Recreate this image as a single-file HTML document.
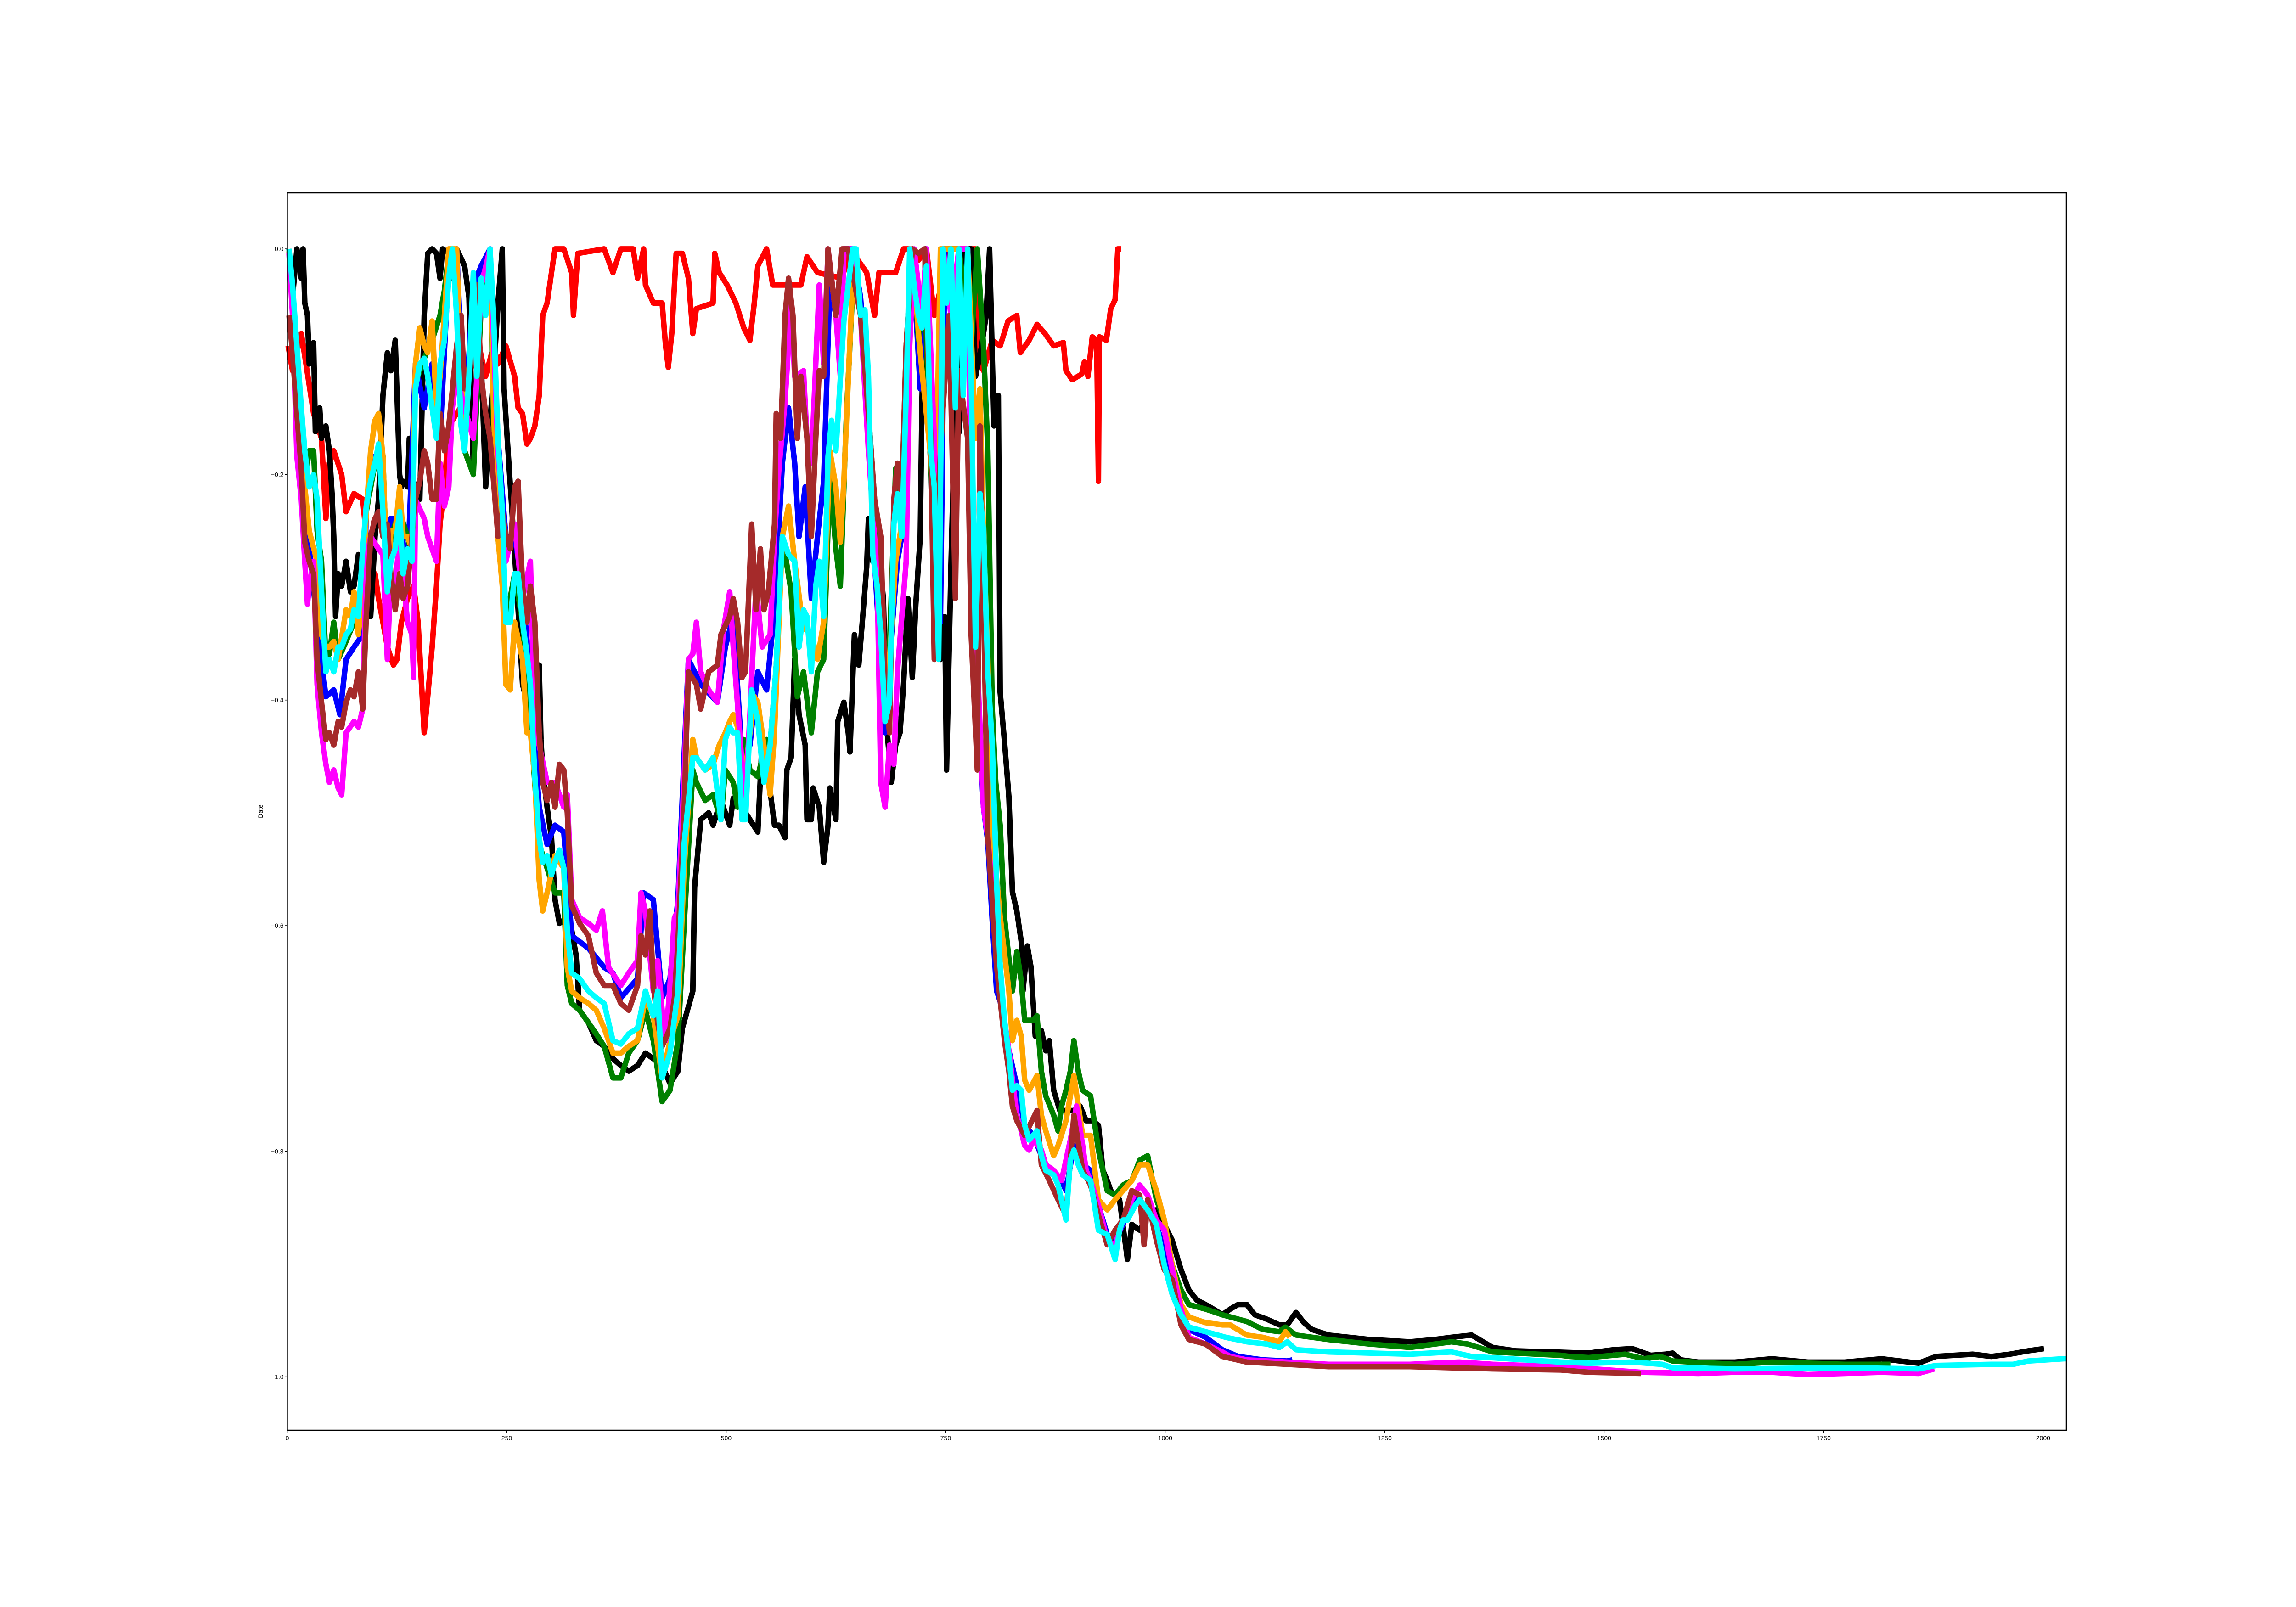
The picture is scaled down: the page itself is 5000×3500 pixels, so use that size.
<!DOCTYPE html>
<html><head><meta charset="utf-8"><title>Drawdown chart</title>
<style>html,body{margin:0;padding:0;background:#fff}svg{display:block}text{font-family:"Liberation Sans","DejaVu Sans",sans-serif;font-size:14px;fill:#000}</style>
</head><body>
<svg id="chart" xmlns="http://www.w3.org/2000/svg" width="5000" height="3500" viewBox="0 0 5000 3500">
<rect x="0" y="0" width="5000" height="3500" fill="#fff"/>
<g id="series"></g>
<rect x="625.5" y="420" width="3874.5" height="2695" fill="none" stroke="#000" stroke-width="2.5"/>
<g id="axes"></g>
<text x="0" y="0" text-anchor="middle" transform="translate(572,1767) rotate(-90)">Date</text>
</svg>
<script>
const xTicks = [0,250,500,750,1000,1250,1500,1750,2000];
const xTickLabels = ["0","250","500","750","1000","1250","1500","1750","2000"];
const yTicks = [0,-0.2,-0.4,-0.6,-0.8,-1.0];
const yTickLabels = ["0.0","\u22120.2","\u22120.4","\u22120.6","\u22120.8","\u22121.0"];
const seriesColors = ["red","black","blue","green","orange","magenta","brown","cyan"];

const redData = [[1,-0.086],[6,-0.108],[16,-0.075],[30,-0.146],[39,-0.168],[44,-0.239],[48,-0.19],[53,-0.179],[62,-0.2],[67,-0.233],[76,-0.217],[86,-0.222],[90,-0.255],[95,-0.299],[100,-0.288],[104,-0.31],[109,-0.331],[114,-0.353],[121,-0.369],[125,-0.364],[130,-0.331],[137,-0.31],[144,-0.299],[149,-0.331],[156,-0.429],[160,-0.397],[165,-0.353],[170,-0.299],[174,-0.244],[179,-0.211],[184,-0.157],[193,-0.146],[202,-0.135],[207,-0.113],[217,-0.081],[226,-0.113],[235,-0.086],[240,-0.102],[249,-0.086],[259,-0.113],[263,-0.141],[268,-0.146],[273,-0.173],[277,-0.168],[282,-0.157],[287,-0.13],[291,-0.059],[296,-0.048],[301,-0.021],[305,0],[315,0],[324,-0.021],[326,-0.059],[331,-0.004],[361,0],[371,-0.021],[380,0],[394,0],[399,-0.026],[406,0],[408,-0.032],[417,-0.048],[427,-0.048],[431,-0.086],[434,-0.105],[438,-0.075],[443,-0.004],[450,-0.004],[457,-0.026],[462,-0.075],[466,-0.053],[485,-0.048],[487,-0.004],[492,-0.021],[501,-0.032],[511,-0.048],[520,-0.07],[527,-0.081],[532,-0.048],[536,-0.015],[546,0],[553,-0.032],[585,-0.032],[592,-0.007],[604,-0.021],[632,-0.026],[641,0],[660,-0.021],[669,-0.059],[674,-0.021],[693,-0.021],[702,0],[709,0],[719,-0.01],[728,0],[737,-0.059],[747,-0.026],[756,0],[784,0],[789,-0.102],[793,-0.108],[803,-0.081],[812,-0.086],[821,-0.064],[831,-0.059],[835,-0.092],[845,-0.081],[854,-0.067],[863,-0.075],[873,-0.086],[884,-0.083],[887,-0.108],[894,-0.116],[905,-0.111],[908,-0.1],[912,-0.113],[917,-0.078],[922,-0.081],[924,-0.206],[925,-0.078],[933,-0.081],[938,-0.053],[943,-0.045],[946,0],[950,0]];

const blackData = [[2,0],[6,-0.043],[11,0],[16,-0.026],[18,0],[20,-0.048],[23,-0.059],[25,-0.102],[27,-0.086],[30,-0.083],[32,-0.162],[37,-0.141],[39,-0.168],[44,-0.157],[48,-0.179],[51,-0.217],[53,-0.255],[55,-0.326],[58,-0.288],[62,-0.299],[67,-0.277],[72,-0.304],[76,-0.299],[81,-0.271],[86,-0.282],[90,-0.277],[95,-0.326],[100,-0.255],[104,-0.222],[109,-0.13],[114,-0.092],[118,-0.108],[123,-0.081],[128,-0.2],[130,-0.211],[132,-0.206],[137,-0.211],[139,-0.168],[144,-0.206],[151,-0.222],[156,-0.059],[160,-0.004],[165,0],[170,-0.004],[174,-0.026],[177,0],[184,-0.004],[188,-0.026],[193,0],[202,-0.015],[207,-0.043],[212,-0.195],[216,-0.113],[221,-0.102],[226,-0.211],[231,-0.152],[235,-0.113],[240,-0.048],[245,0],[247,-0.124],[251,-0.173],[256,-0.233],[263,-0.32],[268,-0.386],[273,-0.402],[277,-0.364],[282,-0.369],[287,-0.369],[289,-0.435],[291,-0.462],[296,-0.495],[301,-0.522],[305,-0.577],[310,-0.598],[319,-0.593],[324,-0.604],[329,-0.626],[333,-0.675],[343,-0.686],[352,-0.702],[361,-0.707],[371,-0.718],[380,-0.724],[389,-0.729],[399,-0.724],[408,-0.713],[417,-0.718],[427,-0.724],[436,-0.74],[445,-0.729],[450,-0.691],[462,-0.658],[464,-0.566],[471,-0.506],[480,-0.5],[485,-0.511],[494,-0.489],[504,-0.511],[508,-0.487],[518,-0.495],[527,-0.506],[536,-0.517],[541,-0.435],[548,-0.468],[555,-0.511],[560,-0.511],[567,-0.522],[569,-0.462],[574,-0.451],[578,-0.364],[583,-0.413],[590,-0.44],[592,-0.506],[597,-0.506],[599,-0.478],[606,-0.495],[611,-0.544],[616,-0.511],[618,-0.478],[625,-0.506],[627,-0.419],[634,-0.402],[639,-0.429],[641,-0.446],[646,-0.342],[651,-0.369],[655,-0.331],[660,-0.282],[662,-0.239],[667,-0.277],[672,-0.255],[679,-0.31],[683,-0.424],[688,-0.473],[693,-0.44],[698,-0.429],[702,-0.386],[707,-0.31],[712,-0.38],[716,-0.315],[721,-0.255],[723,-0.135],[727,0],[730,-0.113],[735,-0.255],[740,-0.13],[744,-0.364],[749,-0.326],[751,-0.462],[756,-0.282],[761,-0.13],[765,-0.163],[770,0],[779,0],[784,-0.113],[791,-0.086],[796,-0.059],[800,0],[805,-0.157],[810,-0.13],[812,-0.393],[817,-0.437],[822,-0.486],[826,-0.57],[831,-0.587],[836,-0.614],[838,-0.658],[843,-0.618],[847,-0.636],[852,-0.698],[859,-0.693],[864,-0.711],[868,-0.702],[873,-0.746],[880,-0.764],[887,-0.764],[896,-0.764],[903,-0.76],[910,-0.773],[917,-0.773],[924,-0.777],[929,-0.817],[934,-0.826],[938,-0.835],[948,-0.843],[957,-0.896],[962,-0.865],[971,-0.87],[980,-0.857],[990,-0.852],[999,-0.865],[1008,-0.879],[1018,-0.905],[1027,-0.923],[1036,-0.932],[1046,-0.936],[1055,-0.94],[1065,-0.945],[1074,-0.94],[1083,-0.936],[1093,-0.936],[1102,-0.945],[1116,-0.949],[1130,-0.954],[1139,-0.954],[1149,-0.943],[1158,-0.952],[1167,-0.958],[1186,-0.963],[1233,-0.967],[1279,-0.969],[1307,-0.967],[1326,-0.965],[1349,-0.963],[1373,-0.974],[1399,-0.977],[1441,-0.978],[1482,-0.979],[1511,-0.976],[1532,-0.975],[1553,-0.981],[1570,-0.98],[1578,-0.979],[1587,-0.985],[1607,-0.987],[1649,-0.987],[1691,-0.984],[1732,-0.987],[1774,-0.987],[1816,-0.984],[1858,-0.988],[1878,-0.982],[1920,-0.98],[1941,-0.982],[1962,-0.98],[1983,-0.977],[2001,-0.975]];

const blueData = [[2,0],[11,-0.113],[20,-0.222],[25,-0.266],[34,-0.331],[44,-0.397],[53,-0.391],[60,-0.413],[67,-0.364],[76,-0.353],[86,-0.342],[90,-0.233],[100,-0.184],[109,-0.184],[114,-0.331],[118,-0.239],[128,-0.239],[137,-0.288],[146,-0.102],[156,-0.141],[165,-0.102],[174,-0.168],[184,-0.015],[193,0],[202,-0.157],[212,-0.032],[221,-0.015],[231,0],[240,-0.168],[249,-0.255],[259,-0.255],[268,-0.299],[277,-0.386],[287,-0.495],[296,-0.528],[305,-0.511],[315,-0.517],[324,-0.609],[343,-0.62],[361,-0.637],[371,-0.642],[380,-0.664],[399,-0.647],[406,-0.571],[417,-0.577],[427,-0.664],[436,-0.647],[445,-0.577],[452,-0.45],[457,-0.364],[471,-0.386],[490,-0.402],[499,-0.353],[508,-0.326],[518,-0.451],[527,-0.44],[536,-0.375],[546,-0.391],[555,-0.32],[564,-0.19],[571,-0.141],[578,-0.19],[583,-0.255],[590,-0.211],[597,-0.31],[604,-0.255],[611,-0.206],[618,-0.032],[625,-0.059],[634,0],[644,0],[653,-0.043],[662,-0.135],[669,-0.277],[676,-0.37],[681,-0.429],[686,-0.364],[695,-0.277],[700,-0.255],[705,-0.113],[712,0],[721,-0.124],[728,0],[737,-0.179],[744,-0.331],[749,0],[775,0],[779,-0.222],[784,-0.364],[793,-0.495],[798,-0.526],[803,-0.596],[808,-0.658],[812,-0.667],[822,-0.711],[831,-0.742],[840,-0.777],[850,-0.786],[859,-0.804],[868,-0.817],[882,-0.826],[887,-0.835],[896,-0.795],[906,-0.812],[915,-0.817],[924,-0.848],[934,-0.874],[943,-0.879],[952,-0.865],[962,-0.843],[971,-0.843],[980,-0.852],[990,-0.865],[999,-0.888],[1008,-0.91],[1018,-0.94],[1027,-0.958],[1046,-0.965],[1065,-0.976],[1083,-0.982],[1111,-0.985],[1139,-0.986],[1145,-0.985]];

const greenData = [[2,0],[11,-0.113],[20,-0.206],[25,-0.179],[30,-0.179],[34,-0.25],[39,-0.277],[44,-0.364],[48,-0.359],[53,-0.331],[58,-0.364],[67,-0.348],[76,-0.331],[86,-0.299],[90,-0.233],[100,-0.19],[109,-0.184],[114,-0.304],[118,-0.255],[128,-0.233],[137,-0.255],[142,-0.271],[146,-0.119],[156,-0.097],[165,-0.081],[174,-0.059],[179,-0.037],[184,-0.004],[193,-0.015],[202,-0.179],[212,-0.2],[221,-0.048],[231,-0.004],[235,-0.157],[240,-0.255],[249,-0.331],[259,-0.288],[268,-0.331],[277,-0.419],[287,-0.528],[296,-0.549],[305,-0.571],[315,-0.571],[319,-0.653],[324,-0.669],[333,-0.675],[343,-0.686],[352,-0.696],[361,-0.707],[371,-0.735],[380,-0.735],[389,-0.713],[399,-0.702],[408,-0.675],[417,-0.702],[427,-0.756],[436,-0.746],[445,-0.702],[452,-0.6],[462,-0.462],[466,-0.473],[476,-0.489],[485,-0.484],[494,-0.506],[499,-0.462],[508,-0.473],[513,-0.495],[520,-0.435],[527,-0.462],[536,-0.468],[546,-0.435],[550,-0.44],[557,-0.37],[564,-0.255],[574,-0.304],[581,-0.397],[588,-0.375],[597,-0.429],[604,-0.375],[611,-0.364],[618,-0.2],[625,-0.266],[630,-0.299],[637,-0.146],[644,-0.037],[648,-0.032],[653,-0.059],[662,-0.146],[672,-0.255],[681,-0.364],[686,-0.353],[693,-0.195],[700,-0.222],[705,-0.086],[712,0],[719,-0.081],[726,-0.032],[733,-0.195],[737,-0.288],[747,0],[765,0],[779,-0.086],[786,0],[793,-0.086],[798,-0.179],[803,-0.408],[807,-0.473],[812,-0.511],[817,-0.593],[826,-0.658],[831,-0.623],[836,-0.649],[840,-0.684],[850,-0.684],[854,-0.68],[859,-0.729],[864,-0.751],[873,-0.768],[878,-0.782],[882,-0.76],[887,-0.746],[892,-0.729],[896,-0.702],[901,-0.729],[906,-0.746],[915,-0.751],[924,-0.799],[934,-0.835],[943,-0.839],[952,-0.83],[962,-0.826],[971,-0.808],[980,-0.804],[990,-0.843],[999,-0.861],[1008,-0.901],[1018,-0.923],[1027,-0.936],[1046,-0.94],[1065,-0.945],[1093,-0.951],[1111,-0.958],[1130,-0.96],[1137,-0.956],[1149,-0.963],[1186,-0.967],[1233,-0.971],[1279,-0.974],[1326,-0.969],[1345,-0.971],[1373,-0.978],[1451,-0.981],[1461,-0.982],[1482,-0.983],[1524,-0.98],[1545,-0.984],[1564,-0.982],[1578,-0.986],[1649,-0.989],[1691,-0.987],[1774,-0.989],[1826,-0.989]];

const orangeData = [[2,0],[11,-0.113],[20,-0.211],[25,-0.25],[34,-0.277],[39,-0.342],[44,-0.353],[48,-0.353],[53,-0.348],[58,-0.364],[67,-0.32],[72,-0.326],[76,-0.304],[81,-0.342],[86,-0.299],[90,-0.233],[95,-0.179],[100,-0.152],[104,-0.146],[109,-0.184],[114,-0.304],[118,-0.25],[123,-0.25],[128,-0.211],[132,-0.255],[137,-0.255],[142,-0.266],[146,-0.102],[151,-0.07],[156,-0.086],[160,-0.092],[165,-0.064],[170,-0.141],[174,-0.113],[179,-0.059],[184,0],[193,0],[198,-0.113],[202,-0.157],[212,-0.059],[221,-0.032],[231,-0.004],[235,-0.141],[240,-0.255],[245,-0.299],[249,-0.386],[254,-0.391],[259,-0.331],[268,-0.364],[273,-0.429],[277,-0.429],[282,-0.468],[287,-0.56],[291,-0.587],[296,-0.571],[305,-0.538],[315,-0.549],[319,-0.637],[324,-0.658],[333,-0.664],[343,-0.669],[352,-0.675],[361,-0.691],[371,-0.713],[380,-0.713],[389,-0.707],[399,-0.702],[408,-0.664],[417,-0.68],[427,-0.735],[436,-0.702],[445,-0.68],[452,-0.55],[462,-0.435],[466,-0.451],[476,-0.462],[485,-0.457],[492,-0.44],[499,-0.429],[504,-0.419],[508,-0.413],[513,-0.424],[518,-0.468],[522,-0.462],[532,-0.397],[536,-0.402],[541,-0.429],[550,-0.484],[555,-0.429],[560,-0.331],[564,-0.255],[571,-0.228],[578,-0.277],[585,-0.32],[590,-0.337],[597,-0.342],[604,-0.364],[611,-0.331],[618,-0.179],[625,-0.211],[630,-0.26],[634,-0.206],[641,-0.081],[646,0],[653,-0.059],[658,-0.059],[662,-0.146],[669,-0.266],[676,-0.348],[681,-0.386],[686,-0.364],[693,-0.277],[700,-0.244],[705,-0.13],[712,0],[719,-0.075],[723,-0.108],[733,-0.184],[737,-0.299],[744,0],[775,0],[784,-0.168],[789,-0.124],[793,-0.255],[798,-0.364],[803,-0.517],[812,-0.592],[822,-0.658],[826,-0.702],[831,-0.684],[836,-0.698],[840,-0.737],[845,-0.746],[854,-0.733],[859,-0.768],[864,-0.782],[873,-0.804],[878,-0.795],[887,-0.773],[896,-0.733],[906,-0.786],[915,-0.786],[924,-0.843],[934,-0.852],[943,-0.843],[952,-0.835],[962,-0.826],[971,-0.812],[980,-0.812],[990,-0.835],[999,-0.861],[1008,-0.901],[1018,-0.936],[1027,-0.947],[1046,-0.952],[1065,-0.954],[1074,-0.954],[1093,-0.963],[1111,-0.965],[1130,-0.969],[1137,-0.96],[1142,-0.965]];

const magentaData = [[2,-0.004],[6,-0.059],[11,-0.184],[16,-0.222],[20,-0.277],[23,-0.315],[25,-0.299],[30,-0.277],[34,-0.386],[39,-0.429],[44,-0.457],[48,-0.473],[53,-0.462],[58,-0.478],[62,-0.484],[67,-0.429],[76,-0.419],[81,-0.424],[86,-0.408],[90,-0.277],[95,-0.255],[104,-0.266],[109,-0.271],[114,-0.364],[118,-0.288],[123,-0.299],[128,-0.255],[137,-0.331],[142,-0.342],[144,-0.38],[146,-0.222],[156,-0.239],[160,-0.255],[170,-0.277],[174,-0.19],[179,-0.228],[184,-0.211],[188,-0.141],[193,-0.113],[202,-0.141],[212,-0.168],[216,-0.113],[221,-0.032],[231,0],[240,-0.179],[249,-0.277],[259,-0.244],[268,-0.31],[277,-0.277],[282,-0.429],[287,-0.44],[296,-0.473],[305,-0.473],[315,-0.495],[319,-0.484],[324,-0.577],[333,-0.593],[343,-0.598],[352,-0.604],[359,-0.587],[366,-0.637],[380,-0.653],[389,-0.642],[399,-0.631],[403,-0.571],[408,-0.587],[417,-0.658],[422,-0.631],[427,-0.675],[431,-0.702],[436,-0.653],[441,-0.593],[445,-0.587],[452,-0.47],[457,-0.364],[462,-0.359],[466,-0.331],[471,-0.375],[480,-0.391],[490,-0.402],[497,-0.337],[504,-0.304],[508,-0.353],[518,-0.457],[522,-0.489],[527,-0.413],[534,-0.299],[541,-0.353],[550,-0.342],[555,-0.255],[560,-0.195],[567,-0.135],[574,-0.048],[578,-0.113],[588,-0.108],[592,-0.168],[597,-0.19],[606,-0.032],[611,-0.102],[616,0],[625,-0.059],[630,-0.113],[634,0],[644,0],[653,-0.059],[662,-0.179],[672,-0.288],[676,-0.473],[681,-0.495],[686,-0.44],[691,-0.457],[695,-0.375],[705,-0.277],[709,-0.086],[714,0],[723,-0.059],[728,0],[737,-0.168],[742,-0.304],[747,0],[756,-0.059],[765,0],[775,0],[779,-0.222],[784,-0.331],[793,-0.495],[798,-0.522],[808,-0.614],[812,-0.658],[822,-0.711],[826,-0.737],[831,-0.768],[836,-0.782],[840,-0.795],[845,-0.799],[850,-0.79],[859,-0.799],[864,-0.812],[873,-0.817],[882,-0.826],[892,-0.79],[899,-0.76],[906,-0.795],[910,-0.817],[915,-0.826],[924,-0.848],[934,-0.879],[943,-0.883],[952,-0.861],[962,-0.843],[971,-0.83],[980,-0.839],[990,-0.861],[999,-0.87],[1008,-0.905],[1018,-0.94],[1027,-0.965],[1046,-0.971],[1065,-0.978],[1074,-0.982],[1093,-0.985],[1139,-0.987],[1186,-0.989],[1279,-0.989],[1335,-0.987],[1373,-0.989],[1451,-0.991],[1541,-0.996],[1607,-0.997],[1649,-0.996],[1691,-0.996],[1732,-0.998],[1774,-0.997],[1816,-0.996],[1858,-0.997],[1876,-0.993]];

const brownData = [[2,-0.059],[6,-0.092],[11,-0.146],[16,-0.195],[20,-0.26],[25,-0.277],[30,-0.288],[34,-0.364],[39,-0.402],[44,-0.435],[48,-0.429],[53,-0.44],[58,-0.419],[62,-0.424],[67,-0.402],[72,-0.391],[76,-0.397],[81,-0.375],[86,-0.408],[90,-0.326],[95,-0.255],[100,-0.239],[104,-0.233],[109,-0.255],[114,-0.244],[118,-0.288],[123,-0.32],[128,-0.288],[132,-0.31],[137,-0.299],[146,-0.222],[151,-0.206],[156,-0.179],[160,-0.19],[165,-0.222],[170,-0.222],[174,-0.146],[179,-0.179],[184,-0.157],[193,-0.086],[198,-0.059],[202,-0.124],[207,-0.113],[212,-0.048],[216,-0.032],[221,-0.113],[226,-0.146],[231,-0.168],[235,-0.206],[240,-0.255],[245,-0.233],[249,-0.255],[254,-0.266],[259,-0.211],[263,-0.206],[268,-0.299],[273,-0.331],[277,-0.299],[282,-0.331],[287,-0.429],[291,-0.473],[296,-0.489],[301,-0.473],[305,-0.495],[310,-0.457],[315,-0.462],[319,-0.5],[324,-0.582],[333,-0.598],[343,-0.609],[352,-0.642],[361,-0.653],[371,-0.653],[380,-0.669],[389,-0.675],[399,-0.653],[403,-0.609],[408,-0.626],[413,-0.587],[417,-0.653],[422,-0.686],[427,-0.707],[436,-0.691],[441,-0.664],[445,-0.615],[452,-0.5],[457,-0.375],[466,-0.386],[471,-0.408],[480,-0.375],[490,-0.369],[494,-0.342],[504,-0.326],[508,-0.31],[513,-0.331],[518,-0.38],[522,-0.375],[529,-0.244],[534,-0.32],[539,-0.266],[543,-0.32],[548,-0.304],[555,-0.244],[557,-0.146],[562,-0.168],[567,-0.059],[571,-0.026],[576,-0.059],[581,-0.168],[585,-0.113],[592,-0.168],[597,-0.255],[602,-0.168],[606,-0.108],[611,-0.113],[616,0],[625,-0.059],[632,0],[639,0],[653,-0.059],[662,-0.146],[669,-0.222],[676,-0.255],[681,-0.386],[686,-0.429],[691,-0.222],[695,-0.19],[700,-0.222],[705,-0.086],[712,0],[719,-0.004],[726,0],[733,-0.168],[737,-0.364],[742,-0.211],[747,-0.141],[754,-0.059],[761,-0.31],[765,-0.108],[775,-0.168],[779,-0.342],[786,-0.462],[789,-0.157],[793,-0.31],[798,-0.521],[808,-0.636],[817,-0.702],[822,-0.729],[826,-0.76],[831,-0.773],[840,-0.786],[854,-0.764],[859,-0.812],[868,-0.826],[878,-0.843],[887,-0.857],[896,-0.768],[906,-0.817],[915,-0.83],[924,-0.857],[934,-0.883],[943,-0.87],[952,-0.861],[962,-0.835],[971,-0.839],[976,-0.883],[980,-0.843],[990,-0.879],[999,-0.905],[1008,-0.914],[1018,-0.954],[1027,-0.967],[1046,-0.971],[1065,-0.982],[1093,-0.987],[1139,-0.989],[1186,-0.991],[1279,-0.991],[1373,-0.993],[1451,-0.994],[1482,-0.996],[1542,-0.997]];

const cyanData = [[2,0],[6,-0.032],[11,-0.086],[16,-0.141],[20,-0.179],[25,-0.211],[30,-0.2],[34,-0.222],[39,-0.304],[44,-0.375],[48,-0.364],[53,-0.375],[58,-0.353],[62,-0.353],[67,-0.342],[72,-0.337],[76,-0.32],[81,-0.326],[86,-0.266],[90,-0.228],[95,-0.206],[100,-0.19],[104,-0.173],[109,-0.233],[114,-0.304],[118,-0.277],[123,-0.266],[128,-0.233],[132,-0.288],[137,-0.266],[142,-0.277],[146,-0.124],[151,-0.102],[156,-0.097],[160,-0.113],[165,-0.141],[170,-0.168],[174,-0.102],[179,-0.081],[184,-0.026],[188,0],[193,-0.059],[198,-0.157],[202,-0.179],[207,-0.113],[212,-0.021],[216,-0.113],[221,-0.026],[226,-0.059],[231,0],[235,-0.059],[240,-0.168],[245,-0.233],[249,-0.331],[254,-0.331],[259,-0.288],[263,-0.288],[268,-0.331],[273,-0.359],[277,-0.386],[282,-0.468],[287,-0.522],[291,-0.544],[296,-0.538],[301,-0.555],[305,-0.544],[310,-0.533],[315,-0.549],[319,-0.604],[324,-0.642],[333,-0.647],[343,-0.658],[352,-0.664],[361,-0.669],[371,-0.702],[380,-0.705],[389,-0.696],[399,-0.691],[408,-0.658],[417,-0.68],[422,-0.658],[427,-0.735],[436,-0.713],[445,-0.658],[452,-0.528],[462,-0.451],[466,-0.451],[476,-0.462],[485,-0.451],[494,-0.506],[499,-0.435],[504,-0.424],[508,-0.429],[513,-0.429],[518,-0.506],[522,-0.506],[529,-0.391],[536,-0.419],[543,-0.473],[550,-0.44],[557,-0.37],[564,-0.255],[571,-0.271],[578,-0.277],[583,-0.353],[588,-0.32],[592,-0.326],[597,-0.375],[602,-0.299],[606,-0.277],[611,-0.326],[616,-0.184],[620,-0.152],[625,-0.179],[634,-0.064],[644,0],[648,0],[653,-0.059],[658,-0.054],[662,-0.113],[667,-0.271],[672,-0.299],[676,-0.342],[681,-0.419],[686,-0.402],[691,-0.244],[695,-0.217],[700,-0.255],[705,-0.13],[709,0],[714,-0.032],[719,-0.059],[723,-0.07],[728,-0.015],[733,-0.179],[737,-0.211],[742,-0.364],[747,0],[751,-0.048],[756,0],[761,-0.141],[765,0],[770,-0.13],[775,0],[779,-0.113],[784,-0.353],[789,-0.217],[793,-0.25],[798,-0.375],[803,-0.44],[808,-0.561],[812,-0.636],[817,-0.684],[822,-0.715],[826,-0.746],[831,-0.742],[836,-0.746],[840,-0.777],[845,-0.79],[854,-0.782],[859,-0.804],[864,-0.817],[873,-0.821],[878,-0.83],[887,-0.861],[892,-0.808],[896,-0.799],[901,-0.812],[906,-0.821],[915,-0.826],[924,-0.87],[934,-0.874],[943,-0.896],[948,-0.87],[952,-0.861],[957,-0.861],[966,-0.848],[971,-0.843],[980,-0.852],[990,-0.865],[999,-0.901],[1008,-0.927],[1018,-0.945],[1027,-0.956],[1046,-0.96],[1069,-0.965],[1093,-0.969],[1116,-0.971],[1130,-0.974],[1139,-0.969],[1149,-0.976],[1186,-0.978],[1279,-0.98],[1326,-0.978],[1349,-0.982],[1451,-0.987],[1482,-0.988],[1532,-0.987],[1566,-0.989],[1578,-0.992],[1649,-0.993],[1774,-0.992],[1858,-0.993],[1878,-0.99],[1941,-0.989],[1966,-0.989],[1983,-0.986],[2024,-0.984],[2026,-0.984]];

const allSeries = [redData, blackData, blueData, greenData, orangeData, magentaData, brownData, cyanData];

const NS = "http://www.w3.org/2000/svg";
const PL = 625.5, PR = 4500, PT = 420, PB = 3115;
const X0 = 0, X1 = 2026.5;
const Y0 = -1.0474, Y1 = 0.0497;
function xS(v){ return PL + (v - X0) / (X1 - X0) * (PR - PL); }
function yS(v){ return PB - (v - Y0) / (Y1 - Y0) * (PB - PT); }

const sg = document.getElementById('series');
allSeries.forEach(function(data, i){
  const p = document.createElementNS(NS, 'polyline');
  p.setAttribute('points', data.map(function(d){ return xS(d[0]).toFixed(1) + ',' + yS(d[1]).toFixed(1); }).join(' '));
  p.setAttribute('fill', 'none');
  p.setAttribute('stroke', seriesColors[i]);
  p.setAttribute('stroke-width', '12');
  p.setAttribute('stroke-linejoin', 'round');
  p.setAttribute('stroke-linecap', 'butt');
  
  
  sg.appendChild(p);
});

const ag = document.getElementById('axes');
xTicks.forEach(function(t, i){
  const x = xS(t);
  const l = document.createElementNS(NS, 'line');
  l.setAttribute('x1', x); l.setAttribute('x2', x);
  l.setAttribute('y1', PB); l.setAttribute('y2', PB + 5);
  l.setAttribute('stroke', '#000'); l.setAttribute('stroke-width', '1.5');
  
  
  ag.appendChild(l);
  const tx = document.createElementNS(NS, 'text');
  tx.setAttribute('x', x); tx.setAttribute('y', PB + 22);
  tx.setAttribute('text-anchor', 'middle');
  tx.textContent = xTickLabels[i];
  
  
  ag.appendChild(tx);
});
yTicks.forEach(function(t, i){
  const y = yS(t);
  const l = document.createElementNS(NS, 'line');
  l.setAttribute('x1', PL - 5); l.setAttribute('x2', PL);
  l.setAttribute('y1', y); l.setAttribute('y2', y);
  l.setAttribute('stroke', '#000'); l.setAttribute('stroke-width', '1.5');
  
  
  ag.appendChild(l);
  const tx = document.createElementNS(NS, 'text');
  tx.setAttribute('x', PL - 8); tx.setAttribute('y', y + 5);
  tx.setAttribute('text-anchor', 'end');
  tx.textContent = yTickLabels[i];
  
  
  ag.appendChild(tx);
});
</script>
</body></html>
